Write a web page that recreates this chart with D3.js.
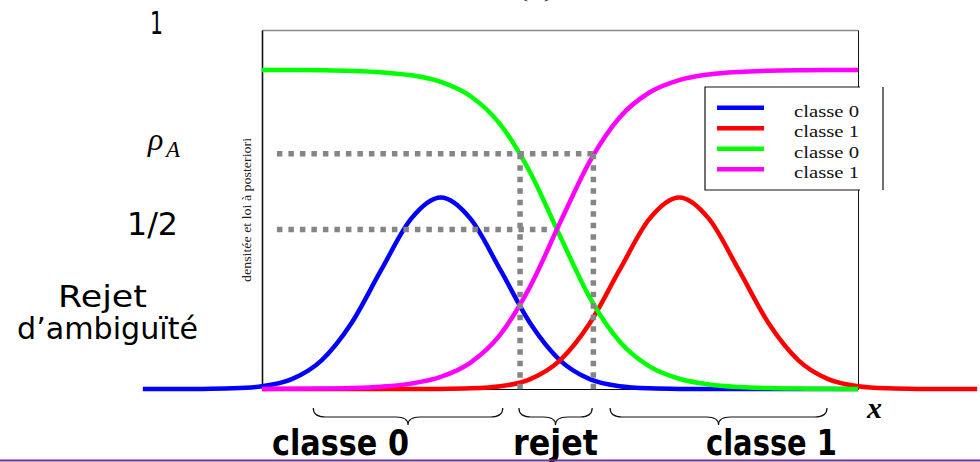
<!DOCTYPE html>
<html>
<head>
<meta charset="utf-8">
<script src="https://cdn.jsdelivr.net/npm/d3@7"></script>
<style>
  html, body { margin: 0; padding: 0; background: #fff; overflow: hidden; }
  svg { display: block; }
</style>
</head>
<body>
<svg id="chart" width="980" height="462"></svg>
<script>
// ---- data -------------------------------------------------------------
// class-conditional densities p(x|classe), sampled every 0.5
const densX0 = [-2, -1.5, -1, -0.5, 0, 0.5, 1, 1.5, 2, 2.5, 3, 3.5, 4, 4.5, 5, 5.5, 6, 6.5, 7, 7.5, 8, 8.5, 9, 9.5, 10];
const densY0 = [0, 0, 0.0003, 0.002, 0.0085, 0.031, 0.090, 0.206, 0.373, 0.533, 0.600, 0.533, 0.373, 0.206, 0.090, 0.031, 0.0085, 0.002, 0.0003, 0, 0, 0, 0, 0, 0];
const densX1 = [0, 0.5, 1, 1.5, 2, 2.5, 3, 3.5, 4, 4.5, 5, 5.5, 6, 6.5, 7, 7.5, 8, 8.5, 9, 9.5, 10, 10.5, 11, 11.5, 12];
const densY1 = [0, 0, 0, 0, 0, 0, 0.0003, 0.002, 0.0085, 0.031, 0.090, 0.206, 0.373, 0.533, 0.600, 0.533, 0.373, 0.206, 0.090, 0.031, 0.0085, 0.002, 0.0003, 0, 0];

// posterior probabilities P(classe|x), sampled every 0.5
const postX = [0, 0.5, 1, 1.5, 2, 2.5, 3, 3.5, 4, 4.5, 5, 5.5, 6, 6.5, 7, 7.5, 8, 8.5, 9, 9.5, 10];
const postY0 = [0.9997, 0.9994, 0.9986, 0.9968, 0.9926, 0.9832, 0.9622, 0.9173, 0.8288, 0.6785, 0.4793, 0.2864, 0.1489, 0.0709, 0.0322, 0.0143, 0.0063, 0.0028, 0.0012, 0.0005, 0.0002];
const postY1 = [0.0003, 0.0006, 0.0014, 0.0032, 0.0074, 0.0168, 0.0378, 0.0827, 0.1712, 0.3215, 0.5207, 0.7136, 0.8511, 0.9291, 0.9678, 0.9857, 0.9937, 0.9972, 0.9988, 0.9995, 0.9998];

// ambiguity-reject threshold and decision regions
const rhoA = 0.737;
const half = 0.5;
const rejectBounds = [4.33, 5.56];
const guideStart = 0.25;
const halfGuideEnd = 4.85;
const regionNames = ["classe 0", "rejet", "classe 1"];
const regionRanges = [[0.86, 4.04], [4.31, 5.54], [5.84, 9.48]];

const legendNames = ["classe 0", "classe 1", "classe 0", "classe 1"];
const seriesColors = ["#0000ff", "#ff0000", "#00ff00", "#ff00ff"];

// ---- scales -----------------------------------------------------------
const svg = d3.select("#chart");
const x = d3.scaleLinear().domain([0, 10]).range([262, 858]);
const y = d3.scaleLinear().domain([0, 1.125]).range([389, 30]);

// ---- frame (axes without ticks) ---------------------------------------
const frame = svg.append("g");
frame.append("g").attr("transform", `translate(0,${y(1.125)})`)
  .call(d3.axisTop(x).ticks(0).tickSizeOuter(0))
  .call(g => g.select(".domain").attr("stroke", "#8a8a8a").attr("stroke-width", 1.6));
frame.append("g").attr("transform", `translate(${x(10)},0)`)
  .call(d3.axisRight(y).ticks(0).tickSizeOuter(0))
  .call(g => g.select(".domain").attr("stroke", "#111").attr("stroke-width", 1));
frame.append("g").attr("transform", `translate(0,${y(0)})`)
  .call(d3.axisBottom(x).ticks(0).tickSizeOuter(0))
  .call(g => g.select(".domain").attr("stroke", "#000").attr("stroke-width", 1));
frame.append("g").attr("transform", `translate(${x(0)},0)`)
  .call(d3.axisLeft(y).ticks(0).tickSizeOuter(0))
  .call(g => g.select(".domain").attr("stroke", "#111").attr("stroke-width", 1.6));

// ---- curves -----------------------------------------------------------
const line = d3.line()
  .x(d => x(d[0]))
  .y(d => y(d[1]))
  .curve(d3.curveMonotoneX);

const series = [
  d3.zip(densX0, densY0),
  d3.zip(densX1, densY1),
  d3.zip(postX, postY0),
  d3.zip(postX, postY1)
];

svg.append("g").selectAll("path")
  .data(series)
  .join("path")
  .attr("d", line)
  .attr("fill", "none")
  .attr("stroke", (d, i) => seriesColors[i])
  .attr("stroke-width", 4.5)
  .attr("stroke-linejoin", "round");

// ---- dotted guides ----------------------------------------------------
const guides = svg.append("g")
  .attr("stroke", "#858585")
  .attr("stroke-width", 5.5)
  .attr("stroke-dasharray", "5.5,6");
guides.append("line")
  .attr("x1", x(guideStart)).attr("x2", x(rejectBounds[1]))
  .attr("y1", y(rhoA)).attr("y2", y(rhoA));
guides.append("line")
  .attr("x1", x(guideStart)).attr("x2", x(halfGuideEnd))
  .attr("y1", y(half)).attr("y2", y(half));
rejectBounds.forEach(b => {
  guides.append("line")
    .attr("x1", x(b)).attr("x2", x(b))
    .attr("y1", y(rhoA)).attr("y2", y(-0.012));
});

// ---- legend -----------------------------------------------------------
const lg = svg.append("g");
const lgLeft = 705, lgTop = 87, lgBottom = 190, lgRight = 883, lgEdge = 860;
lg.append("rect").attr("x", lgLeft).attr("y", lgTop)
  .attr("width", lgRight - lgLeft).attr("height", lgBottom - lgTop)
  .attr("fill", "#fff");
lg.append("path")
  .attr("d", `M${lgEdge},${lgTop}H${lgLeft}V${lgBottom}H${lgEdge}M${lgRight},${lgTop}V${lgBottom}`)
  .attr("fill", "none").attr("stroke", "#111").attr("stroke-width", 1.2);
legendNames.forEach((name, i) => {
  const rowY = 107.7 + i * 20.55;
  lg.append("line")
    .attr("x1", 717).attr("x2", 764)
    .attr("y1", rowY).attr("y2", rowY)
    .attr("stroke", seriesColors[i]).attr("stroke-width", 4.5);
  lg.append("text")
    .attr("x", 794).attr("y", rowY + 9)
    .attr("font-family", "'Liberation Serif', 'Times New Roman', serif")
    .attr("font-size", 17)
    .attr("textLength", 65).attr("lengthAdjust", "spacingAndGlyphs")
    .attr("fill", "#111")
    .text(name);
});

// ---- axis texts -------------------------------------------------------
svg.append("text")
  .attr("transform", "translate(251,210) rotate(-90)")
  .attr("text-anchor", "middle")
  .attr("font-family", "'Liberation Serif', 'Times New Roman', serif")
  .attr("font-size", 13.5)
  .attr("textLength", 144).attr("lengthAdjust", "spacingAndGlyphs")
  .attr("fill", "#222")
  .text("densitée et loi à posteriori");

svg.append("text")
  .attr("x", 518).attr("y", -3)
  .attr("font-family", "'Liberation Serif', serif")
  .attr("font-size", 22)
  .attr("textLength", 36).attr("lengthAdjust", "spacingAndGlyphs")
  .attr("fill", "#333")
  .text("(x)");

svg.append("text")
  .attr("x", 867).attr("y", 418)
  .attr("font-family", "'Liberation Serif', 'Times New Roman', serif")
  .attr("font-style", "italic").attr("font-weight", "bold")
  .attr("font-size", 30)
  .attr("fill", "#000")
  .text("x");

// ---- annotations on the left -----------------------------------------
const handFont = "'DejaVu Sans', 'Noto Sans', sans-serif";
const leftNotes = [
  { t: "1", x: 150, y: 34, len: 13, size: 32 },
  { t: "1/2", x: 127, y: 235, len: 51, size: 32 },
  { t: "Rejet", x: 58, y: 307, len: 89, size: 30 },
  { t: "d’ambiguïté", x: 17, y: 339, len: 181, size: 30 }
];
svg.append("g").selectAll("text")
  .data(leftNotes)
  .join("text")
  .attr("x", d => d.x).attr("y", d => d.y)
  .attr("font-family", handFont)
  .attr("font-size", d => d.size)
  .attr("textLength", d => d.len).attr("lengthAdjust", "spacingAndGlyphs")
  .attr("fill", "#000")
  .text(d => d.t);

const rho = svg.append("text")
  .attr("x", 148).attr("y", 150)
  .attr("font-family", "'Liberation Serif', 'Times New Roman', serif")
  .attr("font-style", "italic")
  .attr("fill", "#000");
rho.append("tspan").attr("font-size", 32).text("ρ");
rho.append("tspan").attr("x", 166).attr("y", 157).attr("font-size", 23).text("A");

// ---- braces and region names -----------------------------------------
function bracePath(x1, x2, yTop, yMid, yTip) {
  const xm = (x1 + x2) / 2, r = Math.min(12, (x2 - x1) / 5);
  const p = d3.path();
  p.moveTo(x1, yTop);
  p.quadraticCurveTo(x1, yMid, x1 + r, yMid);
  p.lineTo(xm - r, yMid);
  p.quadraticCurveTo(xm, yMid, xm, yTip);
  p.quadraticCurveTo(xm, yMid, xm + r, yMid);
  p.lineTo(x2 - r, yMid);
  p.quadraticCurveTo(x2, yMid, x2, yTop);
  return p.toString();
}
svg.append("g").selectAll("path")
  .data(regionRanges)
  .join("path")
  .attr("d", d => bracePath(x(d[0]), x(d[1]), 408, 417, 425))
  .attr("fill", "none").attr("stroke", "#111").attr("stroke-width", 1.2);

const regionLabelPos = [{ x: 272, len: 137 }, { x: 513, len: 85 }, { x: 706, len: 131 }];
svg.append("g").selectAll("text")
  .data(regionNames)
  .join("text")
  .attr("x", (d, i) => regionLabelPos[i].x).attr("y", 455)
  .attr("font-family", handFont).attr("font-weight", "bold")
  .attr("font-size", 35)
  .attr("textLength", (d, i) => regionLabelPos[i].len).attr("lengthAdjust", "spacingAndGlyphs")
  .attr("fill", "#000")
  .text(d => d);

// thin rule along the bottom edge
svg.append("rect").attr("x", 0).attr("y", 459.5).attr("width", 980).attr("height", 2)
  .attr("fill", "#7030a0");
</script>
</body>
</html>
